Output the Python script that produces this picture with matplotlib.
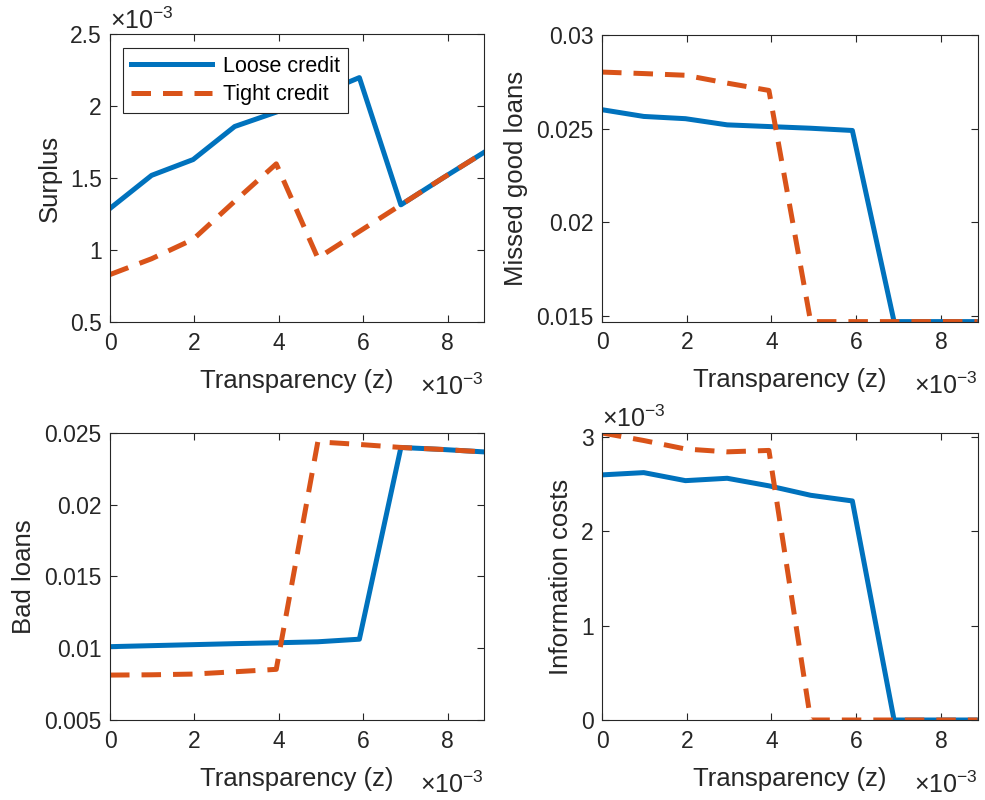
import numpy as np
import matplotlib.pyplot as plt
from matplotlib.ticker import FuncFormatter

plt.rcParams['font.family'] = ['Liberation Sans', 'DejaVu Sans']
plt.rcParams['mathtext.fontset'] = 'custom'
plt.rcParams['mathtext.rm'] = 'Liberation Sans'
plt.rcParams['mathtext.it'] = 'Liberation Sans:italic'

# transparency grid
z = [0, 0.000985, 0.00197, 0.002955, 0.00394, 0.004925, 0.00591, 0.006895, 0.00788, 0.008865]

surplus_loose = [1.29e-3, 1.52e-3, 1.63e-3, 1.86e-3, 1.96e-3, 2.08e-3, 2.20e-3, 1.315e-3, 1.50e-3, 1.68e-3]
surplus_tight = [0.83e-3, 0.94e-3, 1.075e-3, 1.34e-3, 1.60e-3, 0.945e-3, 1.13e-3, 1.315e-3, 1.50e-3, 1.68e-3]

missed_loose = [0.02602, 0.02566, 0.02554, 0.02521, 0.02512, 0.02503, 0.02491, 0.0147, 0.0147, 0.0147]
missed_tight = [0.02803, 0.02795, 0.02786, 0.02744, 0.02705, 0.0147, 0.0147, 0.0147, 0.0147, 0.0147]

bad_loose = [0.01011, 0.01018, 0.01025, 0.01032, 0.01038, 0.01045, 0.01063, 0.02399, 0.02385, 0.02368]
bad_tight = [0.00813, 0.00815, 0.0082, 0.00836, 0.00853, 0.02438, 0.0242, 0.02399, 0.02385, 0.02368]

info_loose = [2.596e-3, 2.62e-3, 2.535e-3, 2.56e-3, 2.48e-3, 2.38e-3, 2.32e-3, 0, 0, 0]
info_tight = [3.04e-3, 2.96e-3, 2.87e-3, 2.84e-3, 2.855e-3, 0, 0, 0, 0, 0]

blue = '#0072BD'
orange = '#D95319'
axcol = '#262626'
tick_fs = 16.5
label_fs = 18.5

fig = plt.figure(figsize=(9.85, 8.0), dpi=100)

panels = [
    ([0.1117, 0.5975, 0.3797, 0.3594], surplus_loose, surplus_tight, 'Surplus', (0.5e-3, 2.5e-3), True),
    ([0.6112, 0.5980, 0.3812, 0.3580], missed_loose, missed_tight, 'Missed good loans', (0.0147, 0.03), False),
    ([0.1117, 0.1000, 0.3797, 0.3588], bad_loose, bad_tight, 'Bad loans', (0.005, 0.025), False),
    ([0.6112, 0.1000, 0.3812, 0.3588], info_loose, info_tight, 'Information costs', (0, 3.04e-3), True),
]

sci = FuncFormatter(lambda v, p: '%g' % round(v * 1e3, 6))
plain = FuncFormatter(lambda v, p: '%g' % round(v, 6))

for i, (pos, loose, tight, ylab, ylim, yscaled) in enumerate(panels):
    ax = fig.add_axes(pos)
    ax.plot(z, loose, color=blue, lw=3.6, label='Loose credit')
    ax.plot(z, tight, color=orange, lw=3.6, ls=(0, (3.9, 2.4)), label='Tight credit')
    ax.set_xlim(0, z[-1])
    ax.set_ylim(*ylim)
    ax.set_xticks([0, 0.002, 0.004, 0.006, 0.008])
    if i == 0:
        ax.set_yticks([0.5e-3, 1e-3, 1.5e-3, 2e-3, 2.5e-3])
    elif i == 1:
        ax.set_yticks([0.015, 0.02, 0.025, 0.03])
    elif i == 2:
        ax.set_yticks([0.005, 0.01, 0.015, 0.02, 0.025])
    else:
        ax.set_yticks([0, 1e-3, 2e-3, 3e-3])
    ax.xaxis.set_major_formatter(sci)
    ax.yaxis.set_major_formatter(sci if yscaled else plain)
    ax.tick_params(direction='in', top=True, right=True, length=5, width=0.8,
                   labelsize=tick_fs, colors=axcol, pad=6)
    ax.tick_params(axis='x', pad=7)
    for s in ax.spines.values():
        s.set_color(axcol)
        s.set_linewidth(0.8)
    ax.set_xlabel('Transparency (z)', fontsize=label_fs, color=axcol, labelpad=10)
    ax.set_ylabel(ylab, fontsize=label_fs, color=axcol, labelpad=6)
    ax.text(1.0, -0.225, r'$\times10^{-3}$', transform=ax.transAxes, ha='right', va='center',
            fontsize=18, color=axcol)
    if yscaled:
        ax.text(0.0, 1.003, r'$\times10^{-3}$', transform=ax.transAxes, ha='left', va='bottom',
                fontsize=18, color=axcol)
    if i == 0:
        leg = ax.legend(loc='upper left', bbox_to_anchor=(0.035, 0.953), borderaxespad=0,
                        fontsize=15.5, fancybox=False, framealpha=1, edgecolor=axcol,
                        handlelength=3.8, borderpad=0.35, labelspacing=0.35, handletextpad=0.5)
        leg.get_frame().set_linewidth(0.8)

fig.savefig('out.png', dpi=100)
